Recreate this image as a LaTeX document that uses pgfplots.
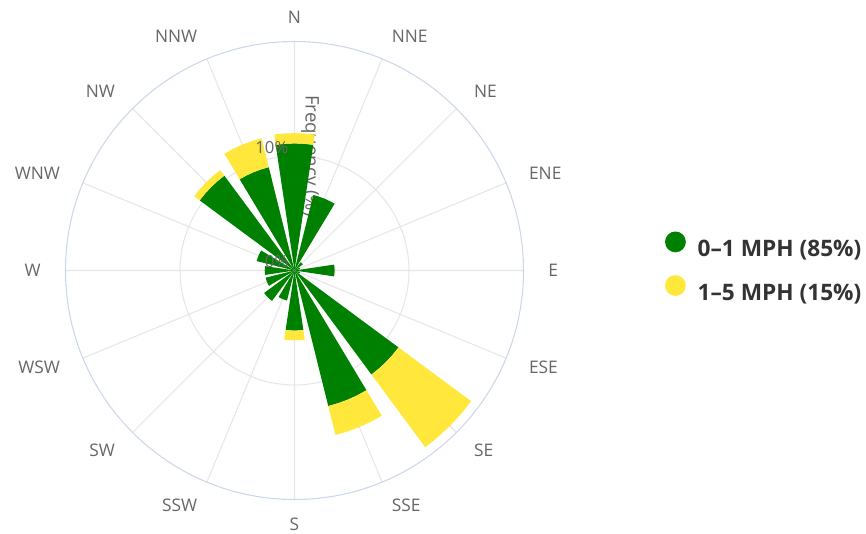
\documentclass[border=0pt]{standalone}
\usepackage{fontspec}
\setmainfont{Open Sans}
\usepackage{pgfplots}
\pgfplotsset{compat=1.18}
\usepgfplotslibrary{polar}

\definecolor{hcgreen}{HTML}{008000}
\definecolor{hcyellow}{HTML}{FFE83B}
\definecolor{gridgray}{HTML}{E6E6E6}
\definecolor{axisblue}{HTML}{CCD6EB}
\definecolor{labelgray}{HTML}{666666}
\definecolor{legendtext}{HTML}{333333}

% #1 colour, #2 direction (math angle), #3 inner radius, #4 outer radius (percent)
\newcommand{\windbar}[4]{%
  \pgfmathsetmacro\aA{#2-8.5}\pgfmathsetmacro\aB{#2-4.25}%
  \pgfmathsetmacro\aC{#2+4.25}\pgfmathsetmacro\aD{#2+8.5}%
  \edef\tmpplot{\noexpand\addplot[fill=#1, draw=none, forget plot] coordinates
    {(\aA,#3) (\aB,#3) (#2,#3) (\aC,#3) (\aD,#3) (\aD,#4) (\aC,#4) (#2,#4) (\aB,#4) (\aA,#4)} -- cycle;}%
  \tmpplot}

\newcommand{\dirlab}[3]{\node[anchor=#3, inner sep=0pt, font=\fontsize{13}{15}\selectfont, text=labelgray] at (axis cs:#1,22.15) {#2};}

\begin{document}
\begin{tikzpicture}
\useasboundingbox (0,0) rectangle (649.5pt,399.75pt);
\begin{polaraxis}[
  at={(220.875pt,196.875pt)}, anchor=center,
  scale only axis, width=343.5pt, height=343.5pt,
  xmin=0, xmax=360, ymin=0, ymax=20,
  xtick={0,22.5,...,337.5}, xticklabels={},
  ytick={10}, yticklabels={},
  grid=major,
  major grid style={draw=gridgray, line width=0.8pt},
  axis line style={draw=axisblue, line width=0.8pt},
  y axis line style={draw=none},
  major tick length=0pt,
  clip=false,
  legend image code/.code={\fill[#1, draw=none] (7.8pt,5.6pt) circle (7.8pt); \path[draw=none, fill=none] (0pt,-2pt) (24.5pt,13pt);},
  legend style={at={(1.309,0.508)}, anchor=west, draw=none, fill=none,
    inner sep=0pt, outer sep=0pt, row sep=12.4pt,
    font=\fontsize{17}{20}\selectfont\bfseries, text=legendtext,
    nodes={inner sep=0pt}, cells={anchor=west}},
]
% axis title (below the bars)
\node[xshift=8.4pt, rotate=-90, anchor=base, font=\fontsize{14}{16}\selectfont, text=labelgray] at (axis cs:90,10) {Frequency (\%)};

% 0-1 MPH (green), from the centre
\windbar{hcgreen}{90}{0}{11.1}     % N
\windbar{hcgreen}{67.5}{0}{6.8}    % NNE
\windbar{hcgreen}{45}{0}{0.9}      % NE
\windbar{hcgreen}{22.5}{0}{0.5}    % ENE
\windbar{hcgreen}{0}{0}{3.5}       % E
\windbar{hcgreen}{-22.5}{0}{0.5}   % ESE
\windbar{hcgreen}{-45}{0}{11.3}    % SE
\windbar{hcgreen}{-67.5}{0}{12.2}  % SSE
\windbar{hcgreen}{-90}{0}{5.25}    % S
\windbar{hcgreen}{-112.5}{0}{2.7}  % SSW
\windbar{hcgreen}{-135}{0}{3.3}    % SW
\windbar{hcgreen}{-157.5}{0}{2.6}  % WSW
\windbar{hcgreen}{180}{0}{2.6}     % W
\windbar{hcgreen}{157.5}{0}{3.4}   % WNW
\windbar{hcgreen}{135}{0}{10.3}    % NW
\windbar{hcgreen}{112.5}{0}{9.3}   % NNW

% 1-5 MPH (yellow), stacked on the green
\windbar{hcyellow}{90}{11.1}{12.0}    % N
\windbar{hcyellow}{-45}{11.3}{19.2}   % SE
\windbar{hcyellow}{-67.5}{12.2}{14.8} % SSE
\windbar{hcyellow}{-90}{5.25}{6.1}    % S
\windbar{hcyellow}{135}{10.3}{10.9}   % NW
\windbar{hcyellow}{112.5}{9.3}{11.9}  % NNW

\addlegendimage{fill=hcgreen}
\addlegendentry{0--1 MPH (85\%)}
\addlegendimage{fill=hcyellow}
\addlegendentry{1--5 MPH (15\%)}

% radial axis labels
\node[xshift=-4.5pt, yshift=6.4pt, anchor=east, inner sep=0pt, font=\fontsize{12.5}{15}\selectfont, text=labelgray] at (axis cs:90,10) {10\%};
\node[xshift=-4.5pt, yshift=6.4pt, anchor=east, inner sep=0pt, font=\fontsize{12.5}{15}\selectfont, text=labelgray] at (axis cs:90,0) {0\%};

% direction labels
\dirlab{90}{N}{center}
\dirlab{67.5}{NNE}{west}
\dirlab{45}{NE}{west}
\dirlab{22.5}{ENE}{west}
\dirlab{0}{E}{west}
\dirlab{-22.5}{ESE}{west}
\dirlab{-45}{SE}{west}
\dirlab{-67.5}{SSE}{west}
\dirlab{-90}{S}{center}
\dirlab{-112.5}{SSW}{east}
\dirlab{-135}{SW}{east}
\dirlab{-157.5}{WSW}{east}
\dirlab{180}{W}{east}
\dirlab{157.5}{WNW}{east}
\dirlab{135}{NW}{east}
\dirlab{112.5}{NNW}{east}
\end{polaraxis}
\end{tikzpicture}
\end{document}
